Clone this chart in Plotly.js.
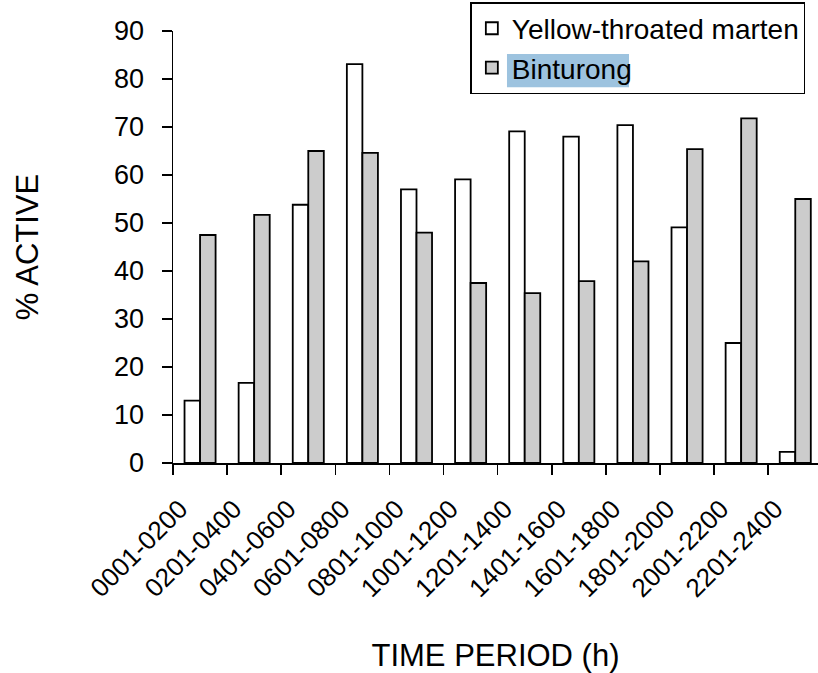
<!DOCTYPE html>
<html>
<head>
<meta charset="utf-8">
<script src="https://cdn.plot.ly/plotly-3.0.1.min.js"></script>
<style>html,body{margin:0;padding:0;background:#fff;}#chart{width:818px;height:673px;}</style>
</head>
<body>
<div id="chart"></div>
<script>
var periods = ["0001-0200","0201-0400","0401-0600","0601-0800","0801-1000","1001-1200","1201-1400","1401-1600","1601-1800","1801-2000","2001-2200","2201-2400"];
var marten = [13.0, 16.7, 53.8, 83.1, 57.0, 59.1, 69.1, 68.0, 70.4, 49.1, 25.0, 2.3];
var binturong = [47.5, 51.7, 65.0, 64.6, 48.0, 37.5, 35.4, 37.9, 42.0, 65.4, 71.8, 55.0];
var yTicks = [0,10,20,30,40,50,60,70,80,90];

var FONT = "Liberation Sans, Arial, sans-serif";
var traces = [
  {type:"bar", name:"Yellow-throated marten", x:periods, y:marten, legendgroup:"a",
   marker:{color:"#ffffff", line:{color:"#000000", width:1.8}}},
  {type:"bar", name:"Binturong", x:periods, y:binturong, legendgroup:"b",
   marker:{color:"#cccccc", line:{color:"#000000", width:1.8}}}
];
var layout = {
  width:818, height:673,
  margin:{l:173, r:0, t:31, b:210, pad:0, autoexpand:false},
  paper_bgcolor:"#ffffff", plot_bgcolor:"#ffffff",
  font:{family:FONT, color:"#000000", size:27},
  barmode:"group", bargap:0.426, bargroupgap:0,
  showlegend:true,
  legend:{x:0.461, xanchor:"left", y:1.067, yanchor:"top",
    bgcolor:"rgba(0,0,0,0)", bordercolor:"#000000", borderwidth:1.5,
    font:{family:FONT, size:28, color:"#000000"}, traceorder:"normal", tracegroupgap:4},
  xaxis:{type:"category", range:[-0.5, 11.42], tickson:"boundaries",
    ticks:"outside", ticklen:10, tickwidth:1.5, tickcolor:"#000",
    showline:true, linecolor:"#000", linewidth:1.5, showgrid:false, zeroline:false,
    tickangle:-45, tickfont:{family:FONT, size:26, color:"#000"}, automargin:false,
    ticklabelstandoff:19, ticklabelshift:-20,
    title:{text:"TIME PERIOD (h)", font:{family:FONT, size:31, color:"#000"}, standoff:53}},
  yaxis:{range:[0,90], tickvals:yTicks, ticktext:yTicks.map(String),
    ticks:"outside", ticklen:10, tickwidth:1.5, tickcolor:"#000",
    showline:true, linecolor:"#000", linewidth:1.5, showgrid:false, zeroline:false,
    tickfont:{family:FONT, size:27, color:"#000"}, automargin:false,
    ticklabelstandoff:12,
    title:{text:"% ACTIVE", font:{family:FONT, size:31, color:"#000"}, standoff:66}},
  shapes:[{type:"rect", xref:"paper", yref:"paper", layer:"above",
    x0:0.5178, x1:0.707, y0:0.870, y1:0.9468,
    fillcolor:"#9dc3df", line:{width:0}}]
};
Plotly.newPlot("chart", traces, layout, {displayModeBar:false, staticPlot:true});
</script>
</body>
</html>
